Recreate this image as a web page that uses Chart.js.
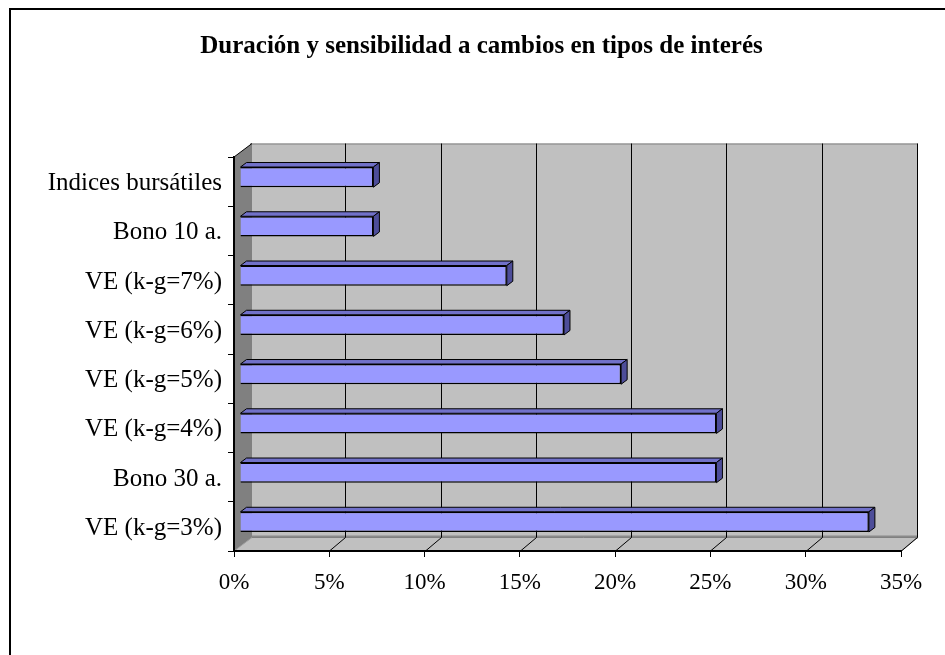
<!DOCTYPE html>
<html>
<head>
<meta charset="utf-8">
<script src="https://cdn.jsdelivr.net/npm/chart.js@4/dist/chart.umd.min.js"></script>
<style>
  html, body { margin: 0; padding: 0; background: #ffffff; }
  #wrap { width: 945px; height: 655px; position: relative; }
</style>
</head>
<body>
<div id="wrap"><canvas id="c" width="945" height="655"></canvas></div>
<script>
// ---- data ----
const titleText = 'Duración y sensibilidad a cambios en tipos de interés';
const categories = [
  'Indices bursátiles',
  'Bono 10 a.',
  'VE (k-g=7%)',
  'VE (k-g=6%)',
  'VE (k-g=5%)',
  'VE (k-g=4%)',
  'Bono 30 a.',
  'VE (k-g=3%)'
];
const durationValues = [7, 7, 14, 17, 20, 25, 25, 33];   // percent
const xTickMin = 0;
const xTickMax = 35;
const xTickStep = 5;

// ---- 3D look ----
const WALL_DX = 16, WALL_DY = -13.5;
const BAR_OX = 6, BAR_OY = -4.5;    // bar front face offset into depth
const BAR_DX = 6, BAR_DY = -4.5;    // bar depth
const FRONT = '#9999FF', TOP = '#7171C9', SIDE = '#4D4D99';

const threeD = {
  id: 'threeD',
  beforeDraw(chart) {
    const ctx = chart.ctx;
    const a = chart.chartArea;
    const xs = chart.scales.x;
    ctx.save();
    ctx.fillStyle = '#ffffff';
    ctx.fillRect(0, 0, chart.width, chart.height);
    // outer frame
    ctx.strokeStyle = '#000000';
    ctx.lineWidth = 2;
    ctx.strokeRect(10, 9, 2000, 2000);

    const L = a.left, R = a.right, T = a.top, B = a.bottom;
    // back wall
    ctx.fillStyle = '#C0C0C0';
    ctx.fillRect(L + WALL_DX, T + WALL_DY, R - L, B - T);
    ctx.strokeStyle = '#808080';
    ctx.lineWidth = 1;
    ctx.strokeRect(L + WALL_DX + 0.5, T + WALL_DY + 0.5, R - L, B - T);
    ctx.beginPath();
    ctx.moveTo(L + WALL_DX, B + WALL_DY - 1);
    ctx.lineTo(R + WALL_DX, B + WALL_DY - 1);
    ctx.lineWidth = 2;
    ctx.strokeStyle = '#8a8a8a';
    ctx.stroke();
    ctx.lineWidth = 1;

    // floor
    ctx.beginPath();
    ctx.moveTo(L, B);
    ctx.lineTo(R, B);
    ctx.lineTo(R + WALL_DX, B + WALL_DY);
    ctx.lineTo(L + WALL_DX, B + WALL_DY);
    ctx.closePath();
    ctx.fillStyle = '#C0C0C0';
    ctx.fill();
    ctx.strokeStyle = '#808080';
    ctx.stroke();

    // side wall
    ctx.beginPath();
    ctx.moveTo(L, T);
    ctx.lineTo(L + WALL_DX + 2, T + WALL_DY);
    ctx.lineTo(L + WALL_DX + 2, B + WALL_DY);
    ctx.lineTo(L, B);
    ctx.closePath();
    ctx.fillStyle = '#808080';
    ctx.fill();
    ctx.beginPath();
    ctx.moveTo(L, T);
    ctx.lineTo(L + WALL_DX + 2, T + WALL_DY);
    ctx.strokeStyle = '#000000';
    ctx.stroke();
    ctx.beginPath();
    ctx.moveTo(L, B);
    ctx.lineTo(L + WALL_DX + 2, B + WALL_DY);
    ctx.strokeStyle = '#A0A0A0';
    ctx.stroke();

    // grid lines on back wall & floor
    ctx.strokeStyle = '#000000';
    ctx.lineWidth = 1;
    for (let v = xTickMin + xTickStep; v <= xTickMax; v += xTickStep) {
      const px = Math.round(xs.getPixelForValue(v)) + 0.5;
      ctx.beginPath();
      ctx.moveTo(px + WALL_DX, T + WALL_DY);
      ctx.lineTo(px + WALL_DX, B + WALL_DY);
      ctx.stroke();
      ctx.beginPath();
      ctx.moveTo(px, B);
      ctx.lineTo(px + WALL_DX, B + WALL_DY);
      ctx.stroke();
    }
    ctx.restore();
  },
  beforeDatasetsDraw(chart) {
    chart.ctx.save();
    chart.ctx.translate(BAR_OX, BAR_OY);
  },
  afterDatasetsDraw(chart) {
    const ctx = chart.ctx;
    const meta = chart.getDatasetMeta(0);
    ctx.lineWidth = 1;
    ctx.strokeStyle = '#000000';
    meta.data.forEach(el => {
      const p = el.getProps(['x', 'y', 'base', 'height'], true);
      const top = p.y - p.height / 2, bot = p.y + p.height / 2;
      // top face
      ctx.beginPath();
      ctx.moveTo(p.base, top);
      ctx.lineTo(p.x, top);
      ctx.lineTo(p.x + BAR_DX, top + BAR_DY);
      ctx.lineTo(p.base + BAR_DX, top + BAR_DY);
      ctx.closePath();
      ctx.fillStyle = TOP;
      ctx.fill();
      ctx.stroke();
      // side face
      ctx.beginPath();
      ctx.moveTo(p.x, top);
      ctx.lineTo(p.x + BAR_DX, top + BAR_DY);
      ctx.lineTo(p.x + BAR_DX, bot + BAR_DY);
      ctx.lineTo(p.x, bot);
      ctx.closePath();
      ctx.fillStyle = SIDE;
      ctx.fill();
      ctx.stroke();
    });
    ctx.restore();
  }
};

new Chart(document.getElementById('c'), {
  type: 'bar',
  data: {
    labels: categories,
    datasets: [{
      data: durationValues,
      yAxisID: 'y',
      backgroundColor: FRONT,
      borderColor: '#000000',
      borderWidth: 1.5,
      barPercentage: 0.41,
      categoryPercentage: 1.0
    }]
  },
  options: {
    indexAxis: 'y',
    responsive: false,
    animation: false,
    devicePixelRatio: 1,
    layout: { padding: { left: 20, right: 2, top: 0, bottom: 0 } },
    plugins: {
      legend: { display: false },
      tooltip: { enabled: false },
      title: {
        display: true,
        text: titleText,
        color: '#000000',
        font: { family: 'Liberation Serif', size: 25, weight: 'bold', lineHeight: 1.2 },
        padding: { top: 31.5, bottom: 95.5 }
      }
    },
    scales: {
      x: {
        type: 'linear',
        min: xTickMin,
        max: xTickMax,
        afterFit(s) { s.height = 104; },
        ticks: {
          stepSize: xTickStep,
          color: '#000000',
          padding: 12,
          font: { family: 'Liberation Serif', size: 23 },
          callback: v => v + '%'
        },
        grid: { drawOnChartArea: false, drawTicks: true, tickLength: 6, color: '#000000', lineWidth: 1 },
        border: { display: true, color: '#000000', width: 2 }
      },
      y: {
        position: 'left',
        afterFit(s) { s.width = 214; },
        ticks: {
          color: '#000000',
          padding: 6,
          labelOffset: 2,
          font: { family: 'Liberation Serif', size: 25 }
        },
        grid: { drawOnChartArea: false, drawTicks: true, tickLength: 6, color: '#000000', lineWidth: 1 },
        border: { display: true, color: '#000000', width: 2 }
      },
      yRightSpace: {
        type: 'category',
        position: 'right',
        display: true,
        afterFit(s) { s.width = 42; },
        ticks: { display: false },
        grid: { display: false },
        border: { display: false }
      }
    }
  },
  plugins: [threeD]
});
</script>
</body>
</html>
